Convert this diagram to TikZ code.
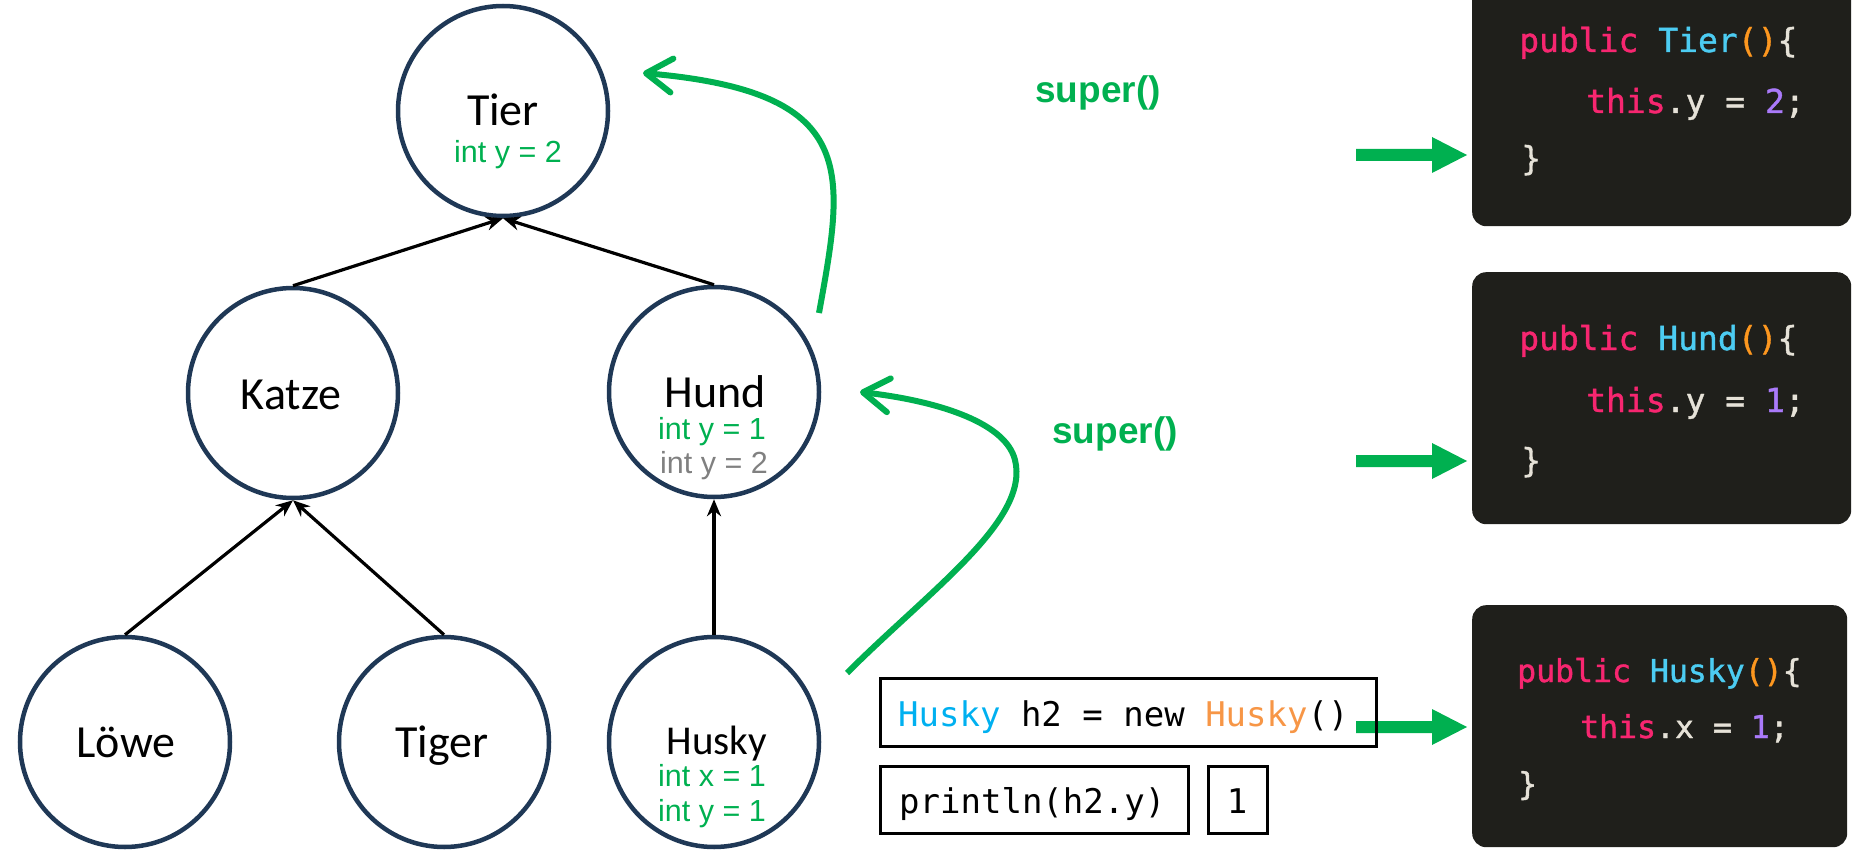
\documentclass[tikz,border=0pt]{standalone}
\usepackage{fontspec}
\setmainfont{Carlito}
\newfontfamily\argfont{Liberation Sans}
\newfontfamily\codefont{DejaVu Sans Mono}
\newfontfamily\darkcodefont[FakeBold=1.2]{DejaVu Sans Mono}
\usetikzlibrary{arrows.meta}

\definecolor{nodeblue}{RGB}{31,56,86}
\definecolor{offgreen}{RGB}{0,176,80}
\definecolor{codebg}{RGB}{31,31,27}
\definecolor{kwpink}{RGB}{247,38,112}
\definecolor{fncyan}{RGB}{76,204,242}
\definecolor{parorange}{RGB}{253,151,31}
\definecolor{numpurple}{RGB}{170,122,250}
\definecolor{codewhite}{RGB}{230,226,216}
\definecolor{typeblue}{RGB}{0,176,240}
\definecolor{ctororange}{RGB}{247,150,70}
\definecolor{shadowgray}{RGB}{128,128,128}

\newcommand\cKw[1]{\textcolor{kwpink}{#1}}
\newcommand\cFn[1]{\textcolor{fncyan}{#1}}
\newcommand\cPar[1]{\textcolor{parorange}{#1}}
\newcommand\cNum[1]{\textcolor{numpurple}{#1}}

\begin{document}
\begin{tikzpicture}[x=1pt,y=-1pt,
  cls/.style={circle,draw=nodeblue,line width=4.5pt,inner sep=0pt,minimum size=210pt},
  cname/.style={anchor=base,inner sep=0pt,font=\fontsize{46}{50}\selectfont},
  attr/.style={anchor=base,inner sep=0pt,text=offgreen,font=\argfont\fontsize{30.5}{34}\selectfont},
  edge/.style={line width=3.2pt,-{Stealth[length=17pt,width=14pt]}},
  callarrow/.style={offgreen,line width=6pt,-{Straight Barb[length=26pt,width=34pt,round]}},
  superlbl/.style={anchor=base,inner sep=0pt,text=offgreen,font=\argfont\bfseries\fontsize{37}{40}\selectfont},
  codebox/.style={fill=codebg,rounded corners=14pt,anchor=north west,inner sep=0pt},
  code/.style={anchor=base west,inner sep=0pt,text=codewhite,font=\darkcodefont\fontsize{33}{36}\selectfont},
  codesm/.style={code,font=\darkcodefont\fontsize{31.5}{34}\selectfont},
  linebox/.style={draw=black,line width=2.5pt,anchor=north west,inner sep=0pt},
  linetext/.style={anchor=base west,inner sep=0pt,font=\codefont\fontsize{34}{38}\selectfont},
]
\useasboundingbox (0,0) rectangle (1861,850);

% class hierarchy
\node[cls] (tier)  at (503,111) {};
\node[cls] (katze) at (293,393) {};
\node[cls] (hund)  at (714,392) {};
\node[cls] (loewe) at (125,742) {};
\node[cls] (tiger) at (444,742) {};
\node[cls] (husky) at (714,742) {};

\node[cname] (tiername)  at (503,126) {Tier};
\node[attr]  (tiery)     at (508,163) {int y = 2};
\node[cname] (katzename) at (291,409) {Katze};
\node[cname] (hundname)  at (715,407) {Hund};
\node[attr]  (hundy)     at (712,439) {int y = 1};
\node[attr,text=shadowgray] (hundyold) at (714,473) {int y = 2};
\node[cname] (loewename) at (126,757) {Löwe};
\node[cname] (tigername) at (442,757) {Tiger};
\node[cname,font=\fontsize{41}{45}\selectfont] (huskyname) at (717,754) {Husky};
\node[attr]  (huskyx)    at (712,786) {int x = 1};
\node[attr]  (huskyy)    at (712,821) {int y = 1};

\draw[edge] (katze.north) -- (tier.south);
\draw[edge] (hund.north) -- (tier.south);
\draw[edge] (loewe.north) -- (katze.south);
\draw[edge] (tiger.north) -- (katze.south);
\draw[edge] (husky.north) -- (hund.south);

% constructor chain
\coordinate (huskyout) at (847,673);
\coordinate (hundin)   at (860,392);
\coordinate (hundout)  at (819,313);
\coordinate (tierin)   at (643,73);
\draw[callarrow] (huskyout) .. controls (930,590) and (1030,520) .. (1015,460)
                            .. controls (1005,420) and (930,400) .. (hundin);
\draw[callarrow] (hundout) .. controls (845,170) and (860,92) .. (tierin);

\node[superlbl] (super1) at (1098,103) {super()};
\node[superlbl] (super2) at (1115,443) {super()};

% constructor bodies
\node[codebox,minimum width=379pt,minimum height=256pt] (tierbox)  at (1472,-30) {};
\node[codebox,minimum width=379pt,minimum height=252pt] (hundbox)  at (1472,272) {};
\node[codebox,minimum width=375pt,minimum height=242pt] (huskybox) at (1472,605) {};

\node[code] (tierl1) at (1519,52)  {\cKw{public} \cFn{Tier}\cPar{()}\{};
\node[code] (tierl2) at (1586,113) {\cKw{this}.y = \cNum{2};};
\node[code] (tierl3) at (1521,170) {\}};

\node[code] (hundl1) at (1519,350) {\cKw{public} \cFn{Hund}\cPar{()}\{};
\node[code] (hundl2) at (1586,412) {\cKw{this}.y = \cNum{1};};
\node[code] (hundl3) at (1521,472) {\}};

\node[codesm] (huskyl1) at (1517,682) {\cKw{public} \cFn{Husky}\cPar{()}\{};
\node[codesm] (huskyl2) at (1580,738) {\cKw{this}.x = \cNum{1};};
\node[codesm] (huskyl3) at (1518,795) {\}};

% block arrows into the constructor bodies
\foreach \yc in {155,461,727}
  \fill[offgreen] (1356,\yc) ++(0,-6) -- ++(76,0) -- ++(0,-12) -- ++(35,18)
        -- ++(-35,18) -- ++(0,-12) -- ++(-76,0) -- cycle;

% program lines
\node[linebox,minimum width=496pt,minimum height=68pt] (newbox) at (879,677) {};
\node[linetext] (newline) at (898,726)
  {\textcolor{typeblue}{Husky} h2 = new \textcolor{ctororange}{Husky}()};
\node[linebox,minimum width=308pt,minimum height=67pt] (printbox) at (879,765) {};
\node[linetext] (printline) at (899,813) {println(h2.y)};
\node[linebox,minimum width=59pt,minimum height=67pt] (outbox) at (1207,765) {};
\node[linetext,anchor=base] (outline) at (1237,813) {1};
\end{tikzpicture}
\end{document}
